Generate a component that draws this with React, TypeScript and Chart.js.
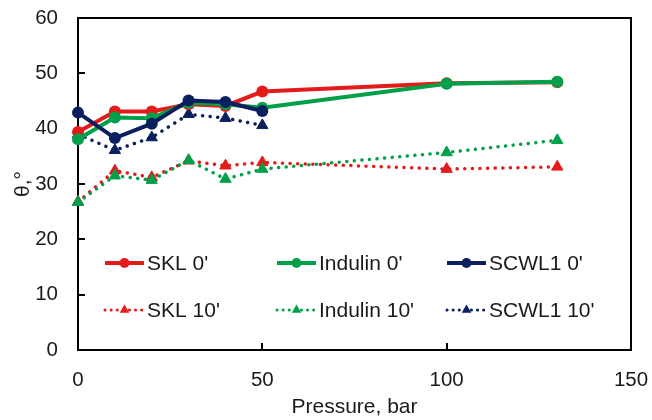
import React, { useEffect, useRef } from "react";
import { Chart, registerables } from "chart.js";
Chart.register(...registerables);

const pressures = [0, 10, 20, 30, 40, 50, 100, 130];
const pressuresScwl = [0, 10, 20, 30, 40, 50];

const skl0 = [39.4, 43.1, 43.1, 44.4, 44.1, 46.7, 48.2, 48.4];
const indulin0 = [38.1, 42.0, 41.9, 44.7, 44.4, 43.8, 48.1, 48.5];
const scwl0 = [42.9, 38.3, 40.9, 45.1, 44.8, 43.2];
const skl10 = [26.8, 32.4, 31.2, 34.2, 33.3, 33.9, 32.7, 33.1];
const indulin10 = [26.7, 31.5, 30.7, 34.3, 30.9, 32.7, 35.7, 37.9];
const scwl10 = [39.0, 36.1, 38.4, 42.6, 41.9, 40.6];

const seriesLabels = ["SKL 0'", "Indulin 0'", "SCWL1 0'", "SKL 10'", "Indulin 10'", "SCWL1 10'"];
const xTickValues = [0, 50, 100, 150];
const yTickValues = [0, 10, 20, 30, 40, 50, 60];

const RED = "#e31b1b";
const GREEN = "#00a04a";
const NAVY = "#0b1f5e";
const FONT = "'Liberation Sans', Arial, sans-serif";
const TICK_FS = 20.5;
const TEXT_FS = 21;

const toXY = (xs: number[], ys: number[]) => ys.map((y, i) => ({ x: xs[i], y }));

const solid = (label: string, xs: number[], ys: number[], color: string, order: number) => ({
  label,
  data: toXY(xs, ys),
  borderColor: color,
  backgroundColor: color,
  borderWidth: 4,
  pointStyle: "circle",
  pointRadius: 6,
  pointBorderWidth: 0,
  pointBackgroundColor: color,
  tension: 0,
  clip: false,
  order,
  _dotted: false,
});

const dotted = (label: string, xs: number[], ys: number[], color: string, order: number) => ({
  label,
  data: toXY(xs, ys),
  borderColor: color,
  backgroundColor: color,
  borderWidth: 3.5,
  borderDash: [0.1, 7.5],
  borderCapStyle: "round",
  pointStyle: "triangle",
  pointRadius: 6.5,
  pointBorderWidth: 1,
  pointBorderColor: color,
  pointBackgroundColor: color,
  tension: 0,
  clip: false,
  order,
  _dotted: true,
});

const framePlugin = {
  id: "frame",
  beforeDatasetsDraw(chart: any) {
    const { ctx, chartArea } = chart;
    const { left, right, top, bottom } = chartArea;
    const xs = chart.scales.x;
    const ys = chart.scales.y;
    ctx.save();
    ctx.strokeStyle = "#000";
    ctx.lineWidth = 2;
    ctx.strokeRect(left, top, right - left, bottom - top);
    ctx.beginPath();
    for (const v of yTickValues) {
      const y = Math.round(ys.getPixelForValue(v));
      ctx.moveTo(left, y);
      ctx.lineTo(left + 7, y);
    }
    for (const v of xTickValues) {
      const x = Math.round(xs.getPixelForValue(v));
      ctx.moveTo(x, bottom);
      ctx.lineTo(x, bottom - 7);
    }
    ctx.stroke();
    ctx.restore();
  },
};

const legendPlugin = {
  id: "gridLegend",
  afterDatasetsDraw(chart: any) {
    const { ctx } = chart;
    const cols = [105, 277, 447];
    const rows = [263, 310];
    const lineLen = 39;
    ctx.save();
    chart.data.datasets.forEach((ds: any, i: number) => {
      const x0 = cols[i % 3];
      const y = rows[Math.floor(i / 3)];
      ctx.strokeStyle = ds.borderColor;
      ctx.fillStyle = ds.borderColor;
      ctx.lineWidth = ds._dotted ? 3 : ds.borderWidth;
      ctx.lineCap = ds._dotted ? "round" : "butt";
      ctx.setLineDash(ds._dotted ? [0.1, 6] : []);
      ctx.beginPath();
      ctx.moveTo(x0, y);
      ctx.lineTo(x0 + lineLen, y);
      ctx.stroke();
      ctx.setLineDash([]);
      const cx = x0 + lineLen / 2;
      if (ds._dotted) {
        const r = 5.5;
        ctx.beginPath();
        ctx.moveTo(cx, y - r);
        ctx.lineTo(cx + r * 0.87, y + r * 0.5);
        ctx.lineTo(cx - r * 0.87, y + r * 0.5);
        ctx.closePath();
        ctx.fill();
      } else {
        ctx.beginPath();
        ctx.arc(cx, y, 5, 0, Math.PI * 2);
        ctx.fill();
      }
      ctx.fillStyle = "#1a1a1a";
      ctx.font = `${TEXT_FS}px ${FONT}`;
      ctx.textBaseline = "middle";
      ctx.textAlign = "left";
      ctx.fillText(ds.label, x0 + 42, y + 1);
    });
    ctx.restore();
  },
};

export default function App() {
  const ref = useRef<HTMLCanvasElement>(null);
  useEffect(() => {
    document.body.style.margin = "0";
    const chart = new Chart(ref.current as HTMLCanvasElement, {
      type: "line",
      data: {
        datasets: [
          solid(seriesLabels[0], pressures, skl0, RED, 3),
          solid(seriesLabels[1], pressures, indulin0, GREEN, 2),
          solid(seriesLabels[2], pressuresScwl, scwl0, NAVY, 1),
          dotted(seriesLabels[3], pressures, skl10, RED, 6),
          dotted(seriesLabels[4], pressures, indulin10, GREEN, 5),
          dotted(seriesLabels[5], pressuresScwl, scwl10, NAVY, 4),
        ] as any,
      },
      options: {
        animation: false,
        responsive: false,
        maintainAspectRatio: false,
        layout: { padding: { top: 18, right: 21, left: 0, bottom: 0 } },
        plugins: { legend: { display: false }, tooltip: { enabled: false } },
        scales: {
          x: {
            type: "linear",
            min: 0,
            max: 150,
            afterBuildTicks: (s: any) => {
              s.ticks = xTickValues.map((v) => ({ value: v }));
            },
            afterFit: (s: any) => {
              s.height = 70;
              s.paddingLeft = 0;
              s.paddingRight = 0;
            },
            grid: { display: false, drawTicks: false },
            border: { display: false },
            ticks: { font: { size: TICK_FS, family: FONT }, color: "#1a1a1a", padding: 18, maxRotation: 0 },
            title: {
              display: true,
              text: "Pressure, bar",
              font: { size: TEXT_FS, family: FONT },
              color: "#1a1a1a",
              padding: { top: 0, bottom: 0 },
            },
          },
          y: {
            type: "linear",
            min: 0,
            max: 60,
            afterBuildTicks: (s: any) => {
              s.ticks = yTickValues.map((v) => ({ value: v }));
            },
            afterFit: (s: any) => {
              s.width = 78;
              s.paddingTop = 0;
              s.paddingBottom = 0;
            },
            grid: { display: false, drawTicks: false },
            border: { display: false },
            ticks: { font: { size: TICK_FS, family: FONT }, color: "#1a1a1a", padding: 20 },
            title: {
              display: true,
              text: "θ,°",
              font: { size: TEXT_FS, family: FONT },
              color: "#1a1a1a",
              padding: { top: 11, bottom: 0 },
            },
          },
        },
      } as any,
      plugins: [framePlugin, legendPlugin],
    });
    return () => chart.destroy();
  }, []);
  return <canvas ref={ref} width={652} height={420} style={{ display: "block" }} />;
}
